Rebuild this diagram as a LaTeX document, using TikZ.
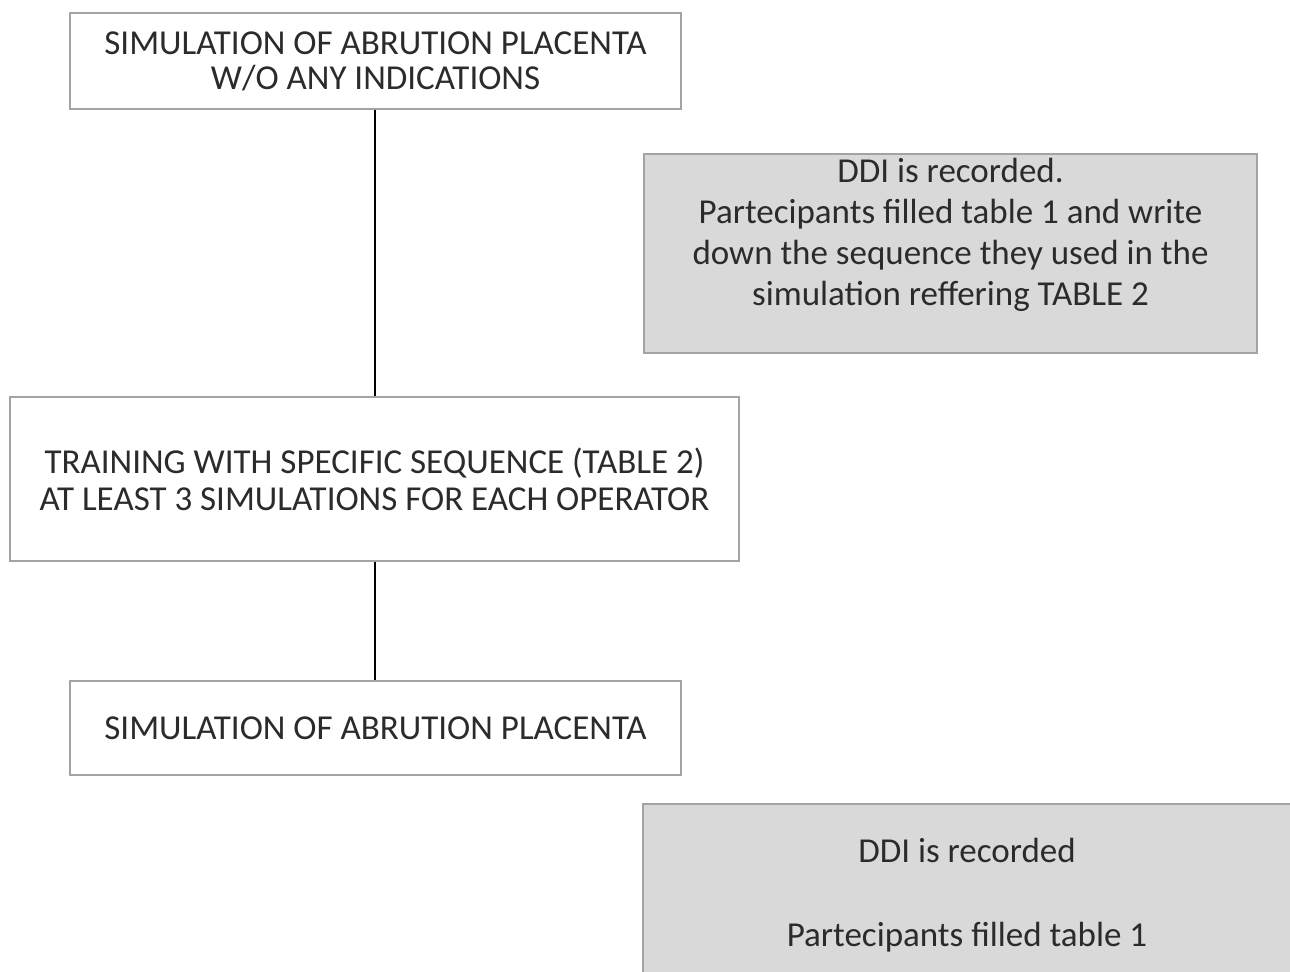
\documentclass[tikz,border=0pt]{standalone}
\usepackage{fontspec}
\setmainfont{Carlito}
\usepackage{xcolor}
\usetikzlibrary{positioning}
\definecolor{boxline}{HTML}{A3A3A3}
\definecolor{notefill}{HTML}{D9D9D9}
\definecolor{inktext}{HTML}{2B2B2B}

\tikzset{
  stepbox/.style={draw=boxline, line width=0.75pt, fill=white, inner sep=0pt,
    align=center, text=inktext, font=\fontsize{17.5}{17.5}\selectfont},
  notebox/.style={draw=boxline, line width=0.75pt, fill=notefill, inner sep=0pt},
  notetext/.style={align=center, text=inktext, inner sep=0pt,
    font=\fontsize{17.5}{20.5}\selectfont},
  link/.style={line width=1pt, black},
}

\begin{document}
\begin{tikzpicture}[x=0.5pt, y=-0.5pt]
  % ---- page frame ----
  \clip (0,0) rectangle (1290,972);

  % ---- main steps ----
  \node[stepbox, minimum width=305.5pt, minimum height=48pt] (pre) at (375.5,61)
    {SIMULATION OF ABRUTION PLACENTA\\W/O ANY INDICATIONS};
  \node[stepbox, minimum width=364.5pt, minimum height=82pt,
    font=\fontsize{17.5}{18.5}\selectfont] (train) at (374.5,479)
    {TRAINING WITH SPECIFIC SEQUENCE (TABLE 2)\\AT LEAST 3 SIMULATIONS FOR EACH OPERATOR};
  \node[stepbox, minimum width=305.5pt, minimum height=47pt] (post) at (375.5,728)
    {SIMULATION OF ABRUTION PLACENTA};

  % ---- links ----
  \draw[link] (train.north |- pre.south) -- (train.north);
  \draw[link] (train.south) -- (train.south |- post.north);

  % ---- side notes ----
  \node[notebox, minimum width=306.5pt, minimum height=99.5pt] (prenote) at (950.5,253.5) {};
  \node[notetext] (prenotetext) at (950.5,235)
    {DDI is recorded.\\Partecipants filled table 1 and write\\down the sequence they used in the\\simulation reffering TABLE 2};
  \node[notebox, anchor=north west, minimum width=326pt, minimum height=100pt] (postnote) at (642,803) {};
  \node[notetext] (postnotetext) at (967,895)
    {DDI is recorded\\[21.5pt]Partecipants filled table 1};
\end{tikzpicture}
\end{document}
